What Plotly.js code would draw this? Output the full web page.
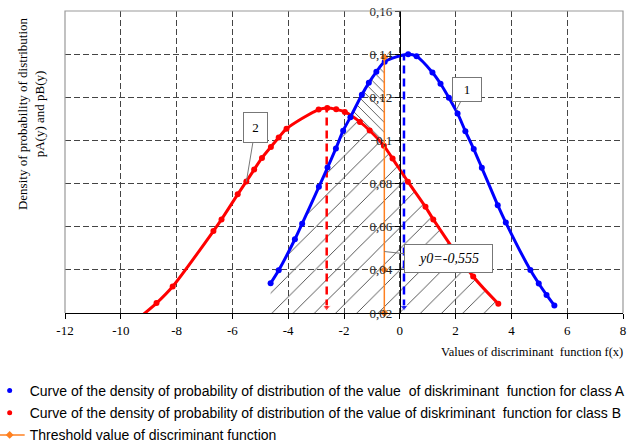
<!DOCTYPE html>
<html>
<head>
<meta charset="utf-8">
<script src="https://cdn.plot.ly/plotly-3.0.1.min.js"></script>
<style>html,body{margin:0;padding:0;background:#fff}#chart{width:636px;height:445px}</style>
</head>
<body>
<div id="chart"></div>
<script>
// Class A density curve (blue)
var blueX = [-4.63,-4.34,-3.76,-3.50,-2.90,-2.59,-2.29,-2.03,-1.77,-1.36,-1.11,-0.84,-0.54,0.30,0.60,1.17,1.46,1.76,2.07,2.35,2.65,2.94,3.51,3.80,4.68,4.98,5.26,5.54];
var blueY = [0.0338,0.0398,0.0542,0.0614,0.0785,0.0874,0.0963,0.1045,0.1108,0.1212,0.1267,0.1318,0.1365,0.1400,0.1390,0.1315,0.1263,0.1198,0.1125,0.1043,0.0960,0.0873,0.0700,0.0619,0.0399,0.0337,0.0284,0.0235];
// Class B density curve (red)
var redX = [-9.45,-8.72,-8.14,-6.68,-6.39,-5.81,-5.50,-5.22,-4.94,-4.62,-4.34,-4.06,-2.91,-2.60,-2.28,-1.97,-1.43,-1.08,-0.57,-0.26,0.29,0.92,1.20,2.63,3.53];
var redY = [0.0166,0.0246,0.0323,0.0580,0.0634,0.0750,0.0810,0.0865,0.0919,0.0970,0.1014,0.1054,0.1143,0.1150,0.1144,0.1132,0.1086,0.1046,0.0975,0.0916,0.0809,0.0692,0.0634,0.0369,0.0243];
// Means and threshold
var meanA = 0.1497, peakA = 0.140;
var meanB = -2.6201, peakB = 0.115;
var threshold = -0.555;
var thresholdY = [0.02, 0.04, 0.1385];
var meanBottom = 0.0226;
// Axis ticks
var xTickVals = [-12,-10,-8,-6,-4,-2,0,2,4,6,8];
var xTickText = ['-12','-10','-8','-6','-4','-2','0','2','4','6','8'];
var yTickVals = [0.02,0.04,0.06,0.08,0.10,0.12,0.14,0.16];
var yTickText = ['0,02','0,04','0,06','0,08','0,1','0,12','0,14','0,16'];
// Labels
var nameA = 'Curve of the density of probability of distribution of the value  of diskriminant  function for class A';
var nameB = 'Curve of the density of probability of distribution of the value of diskriminant  function for class B';
var nameT = 'Threshold value of discriminant function';

function interp(xs, ys, x){
  for (var i=0;i<xs.length-1;i++){
    if (xs[i]<=x && x<=xs[i+1]) return ys[i]+(ys[i+1]-ys[i])*(x-xs[i])/(xs[i+1]-xs[i]);
  }
  return null;
}
// intersection of the two curves (left of threshold)
var xi = null, yi = null;
var prev = null;
for (var t=-4.5; t<=threshold; t+=0.005){
  var d = interp(blueX,blueY,t) - interp(redX,redY,t);
  if (prev!==null && prev<0 && d>=0){ xi=t; yi=interp(blueX,blueY,t); break; }
  prev = d;
}
var yBot = 0.02;
// Region under lower of the two curves
var lowX=[blueX[0]], lowY=[yBot];
for (var i=0;i<blueX.length;i++){ if (blueX[i]<xi){ lowX.push(blueX[i]); lowY.push(blueY[i]); } }
lowX.push(xi); lowY.push(yi);
for (var i=0;i<redX.length;i++){ if (redX[i]>xi){ lowX.push(redX[i]); lowY.push(redY[i]); } }
lowX.push(redX[redX.length-1]); lowY.push(yBot);
// Region between curves, from intersection to threshold
var midX=[xi], midY=[yi];
for (var i=0;i<blueX.length;i++){ if (blueX[i]>xi && blueX[i]<threshold){ midX.push(blueX[i]); midY.push(blueY[i]); } }
midX.push(threshold); midY.push(interp(blueX,blueY,threshold));
midX.push(threshold); midY.push(interp(redX,redY,threshold));
for (var i=redX.length-1;i>=0;i--){ if (redX[i]>xi && redX[i]<threshold){ midX.push(redX[i]); midY.push(redY[i]); } }

var serif = 'Liberation Serif, Times New Roman, serif';
var sans = 'Liberation Sans, Arial, sans-serif';
var thrX = thresholdY.map(function(){ return threshold; });

var traces = [
  {x:lowX, y:lowY, mode:'none', fill:'toself', fillcolor:'rgba(0,0,0,0)',
   fillpattern:{shape:'/', size:15, solidity:0.06, fgcolor:'#444', bgcolor:'rgba(0,0,0,0)'},
   showlegend:false, hoverinfo:'skip'},
  {x:midX, y:midY, mode:'none', fill:'toself', fillcolor:'rgba(0,0,0,0)',
   fillpattern:{shape:'\\', size:7, solidity:0.12, fgcolor:'#444', bgcolor:'rgba(0,0,0,0)'},
   showlegend:false, hoverinfo:'skip'},
  {x:[meanB, meanB], y:[meanBottom, peakB], mode:'lines+markers',
   line:{color:'rgb(255,0,0)', width:2.5, dash:'8px,5px'},
   marker:{symbol:'triangle-down', size:[7,0], color:'rgb(255,0,0)'}, showlegend:false, cliponaxis:false},
  {x:[meanA, meanA], y:[meanBottom, peakA], mode:'lines+markers',
   line:{color:'rgb(0,0,255)', width:2.5, dash:'8px,5px'},
   marker:{symbol:'triangle-down', size:[7,0], color:'rgb(0,0,255)'}, showlegend:false, cliponaxis:false},
  {x:redX, y:redY, mode:'lines+markers', line:{color:'rgb(255,0,0)', width:3, shape:'spline', smoothing:0.8},
   marker:{color:'rgb(255,0,0)', size:6}, showlegend:false},
  {x:blueX, y:blueY, mode:'lines+markers', line:{color:'rgb(0,0,255)', width:3, shape:'spline', smoothing:0.8},
   marker:{color:'rgb(0,0,255)', size:6}, showlegend:false},
  {x:[null], y:[null], mode:'markers', marker:{color:'rgb(0,0,255)', size:5}, name:nameA, legendgroup:'a'},
  {x:[null], y:[null], mode:'markers', marker:{color:'rgb(255,0,0)', size:5}, name:nameB, legendgroup:'b'},
  {x:thrX, y:thresholdY, mode:'lines+markers', name:nameT, legendgroup:'c',
   line:{color:'rgb(255,128,32)', width:1.5}, marker:{symbol:'diamond', size:6, color:'rgb(255,128,32)'}, cliponaxis:false}
];

var layout = {
  width:636, height:445,
  margin:{l:65, r:13, t:11, b:132, autoexpand:false},
  paper_bgcolor:'#fff', plot_bgcolor:'#fff',
  showlegend:true,
  legend:{x:-0.135, y:-0.205, xanchor:'left', yanchor:'top', font:{family:sans, size:14, color:'#000'},
          tracegroupgap:1, bgcolor:'rgba(0,0,0,0)', itemwidth:30},
  xaxis:{range:[-12,8], tickvals:xTickVals, ticktext:xTickText, showgrid:true, gridcolor:'#444', griddash:'6px,3px', gridwidth:1,
         zeroline:false, showline:true, linecolor:'#000', linewidth:1, ticks:'outside', ticklen:5, tickcolor:'#000',
         tickfont:{family:serif, size:13, color:'#000'}, fixedrange:true},
  yaxis:{range:[0.02,0.16], tickvals:yTickVals, ticktext:yTickText, anchor:'free', position:0.6,
         showgrid:true, gridcolor:'#444', griddash:'6px,3px', gridwidth:1,
         zeroline:false, showline:true, linecolor:'#000', linewidth:1, ticks:'outside', ticklen:5, tickcolor:'#000',
         tickfont:{family:serif, size:13, color:'#222'}, fixedrange:true},
  shapes:[
    {type:'path', xref:'paper', yref:'paper', path:'M0,0 L0,1 L1,1 L1,0', line:{color:'#999', width:1.2}}
  ],
  annotations:[
    {xref:'paper', yref:'paper', x:-0.061, y:0.662, xanchor:'center', yanchor:'middle', textangle:-90,
     text:'Density of probability of distribution<br>pA(y) and pB(y)', showarrow:false,
     font:{family:serif, size:13, color:'#000'}},
    {xref:'paper', yref:'paper', x:1.003, y:-0.128, xanchor:'right', yanchor:'middle',
     text:'Values of discriminant  function f(x)', showarrow:false, font:{family:serif, size:12.5, color:'#000'}},
    {x:-4.24, y:0.0178, xanchor:'left', yanchor:'middle', text:'mB(y)=-2,6201', showarrow:false,
     font:{family:serif, size:13, color:'rgb(255,40,40)'}},
    {x:-0.26, y:0.0178, xanchor:'left', yanchor:'middle', text:'mA(y)=0,1497', showarrow:false,
     font:{family:serif, size:13, color:'rgb(40,40,255)'}},
    {x:2.02, y:0.1140, ax:11, ay:-21, text:'1', showarrow:true, arrowhead:0, arrowwidth:1, arrowcolor:'#777',
     bordercolor:'#777', borderwidth:1, bgcolor:'#fff', width:24, height:19, borderpad:2,
     font:{family:serif, size:13, color:'#000'}},
    {x:-5.5, y:0.0809, ax:9, ay:-54, text:'2', showarrow:true, arrowhead:0, arrowwidth:1, arrowcolor:'#777',
     bordercolor:'#777', borderwidth:1, bgcolor:'#fff', width:19, height:25, borderpad:2,
     font:{family:serif, size:13, color:'#000'}},
    {x:threshold, y:0.0485, ax:64, ay:7, text:'<i>y0=-0,555</i>', showarrow:true, arrowhead:0, arrowwidth:1, arrowcolor:'#777',
     bordercolor:'#777', borderwidth:1, bgcolor:'#fff', width:83, height:23, borderpad:2,
     font:{family:serif, size:14, color:'#000'}}
  ]
};

Plotly.newPlot('chart', traces, layout, {displayModeBar:false, staticPlot:true});
</script>
</body>
</html>
